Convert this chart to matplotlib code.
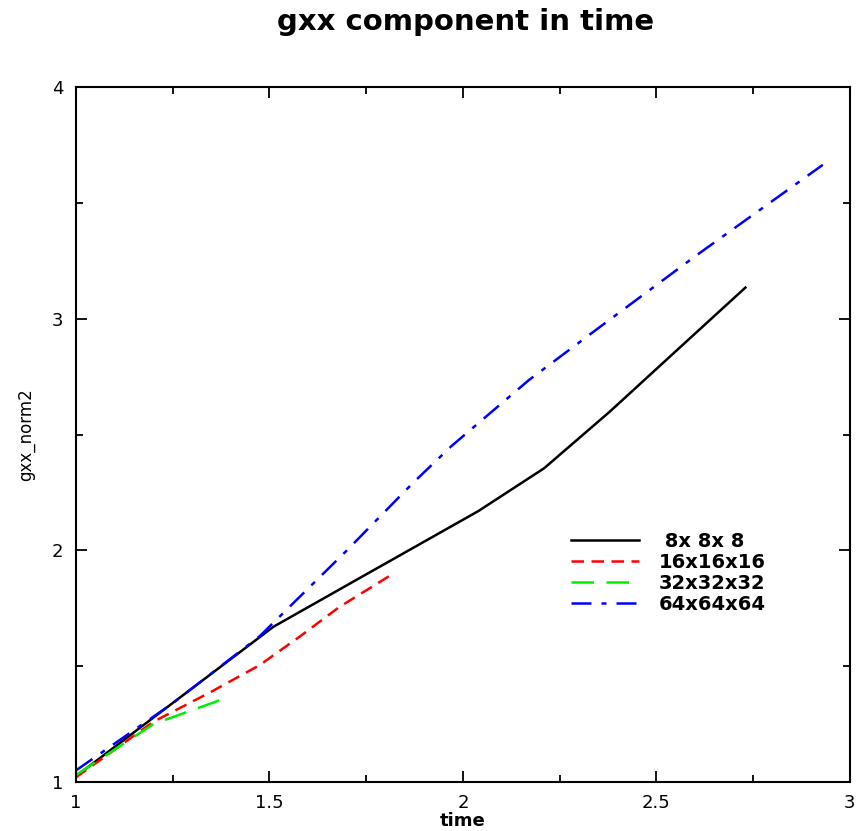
import matplotlib

matplotlib.use("Agg")
import matplotlib.pyplot as plt
from matplotlib.ticker import MultipleLocator

plt.rcParams["font.family"] = ["DejaVu Sans"]

# black: 8x8x8
t8 = [1.0, 1.51, 1.69, 2.04, 2.21, 2.38, 2.55, 2.73]
g8 = [1.025, 1.67, 1.84, 2.17, 2.355, 2.60, 2.86, 3.135]

# red: 16x16x16
t16 = [1.0, 1.2, 1.35, 1.475, 1.58, 1.68, 1.82]
g16 = [1.02, 1.26, 1.39, 1.505, 1.63, 1.755, 1.90]

# green: 32x32x32
t32 = [1.0, 1.1, 1.2, 1.3, 1.4]
g32 = [1.03, 1.14, 1.25, 1.31, 1.37]

# blue: 64x64x64
t64 = [1.0, 1.25, 1.475, 1.7, 1.87, 1.97, 2.17, 2.35, 2.6, 2.93]
g64 = [1.05, 1.34, 1.63, 2.0, 2.29, 2.45, 2.735, 2.96, 3.27, 3.665]

labels = [" 8x 8x 8", "16x16x16", "32x32x32", "64x64x64"]
xticks = [1, 1.5, 2, 2.5, 3]
yticks = [1, 2, 3, 4]

fig = plt.figure(figsize=(8.57, 8.31), dpi=100)
ax = fig.add_axes([0.0887, 0.059, 0.903, 0.836])

ax.plot(t8, g8, color="black", linewidth=1.8, label=labels[0])
ax.plot(t16, g16, color="red", linewidth=1.8, dashes=(5, 3), label=labels[1])
ax.plot(t32, g32, color="#00ee00", linewidth=1.8, dashes=(9, 5), label=labels[2])
ax.plot(t64, g64, color="blue", linewidth=1.8, dashes=(8, 4, 2, 4), label=labels[3])

ax.set_xlim(1, 3)
ax.set_ylim(1, 4)
ax.xaxis.set_minor_locator(MultipleLocator(0.25))
ax.yaxis.set_minor_locator(MultipleLocator(0.5))
ax.set_xticks(xticks, [f"{v:g}" for v in xticks])
ax.set_yticks(yticks, [f"{v:g}" for v in yticks])
ax.tick_params(which="both", direction="in", top=True, right=True, labelsize=13, width=1.3)
ax.tick_params(which="major", length=8, pad=9)
ax.tick_params(which="minor", length=5)
for s in ax.spines.values():
    s.set_linewidth(1.5)

ax.set_xlabel("time", fontsize=13, fontweight="bold", labelpad=0)
ax.set_ylabel("gxx_norm2", fontsize=12, labelpad=12)
fig.suptitle("gxx component in time", fontsize=21, fontweight="bold", x=0.543, y=0.99)

ax.legend(loc="upper left", bbox_to_anchor=(0.617, 0.385), frameon=False,
          handlelength=3.5, prop={"weight": "bold", "size": 14},
          labelspacing=0.1, handletextpad=1.0)

fig.savefig("out.png", dpi=100)
